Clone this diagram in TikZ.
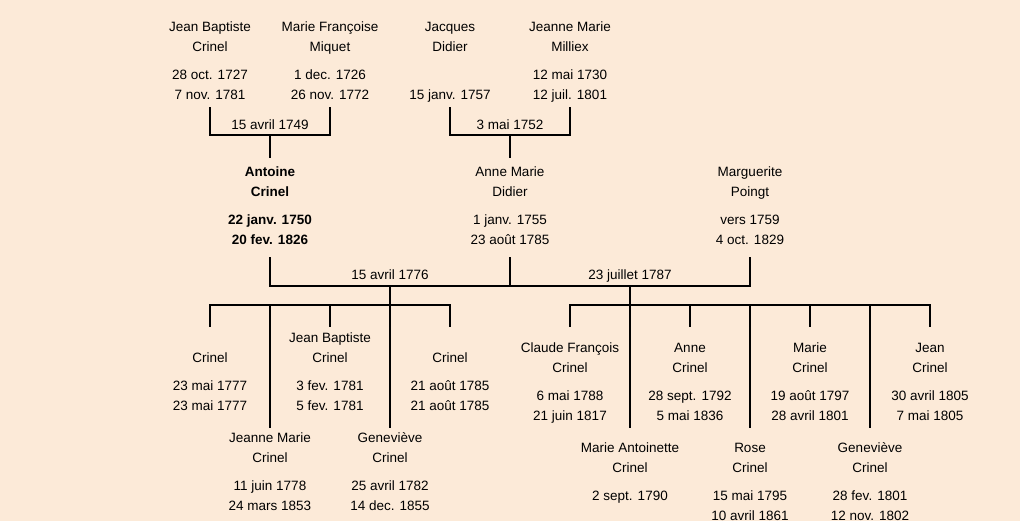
\documentclass[tikz,border=0pt]{standalone}
\usepackage{fontspec}
\setmainfont{Liberation Sans}
\definecolor{fond}{RGB}{252,234,216}
\tikzset{
  person/.style={align=center, anchor=base, inner sep=0pt, font=\fontsize{13.5}{20}\selectfont},
  mariage/.style={anchor=base, inner sep=0pt, font=\fontsize{13.5}{20}\selectfont},
  lien/.style={line width=2pt, line cap=rect}
}
\begin{document}
\begin{tikzpicture}[x=1pt, y=-1pt]
\fill[fond] (0,0) rectangle (1020,521);
\useasboundingbox (0,0) rectangle (1020,521);
% Grands-parents
\node[person] (jbc) at (210,100) {Jean Baptiste\\Crinel\\[8pt]28 oct. 1727\\7 nov. 1781};
\node[person] (mfm) at (330,100) {Marie Françoise\\Miquet\\[8pt]1 dec. 1726\\26 nov. 1772};
\node[person] (jad) at (450,100) {Jacques\\Didier\\[8pt]\\15 janv. 1757};
\node[person] (jmm) at (570,100) {Jeanne Marie\\Milliex\\[8pt]12 mai 1730\\12 juil. 1801};
% Parents
\node[person, font=\fontsize{13.5}{20}\selectfont\bfseries] (ac) at (270,245) {Antoine\\Crinel\\[8pt]22 janv. 1750\\20 fev. 1826};
\node[person] (amd) at (510,245) {Anne Marie\\Didier\\[8pt]1 janv. 1755\\23 août 1785};
\node[person] (mp) at (750,245) {Marguerite\\Poingt\\[8pt]vers 1759\\4 oct. 1829};
% Mariages
\node[mariage] (ma1) at (270,130) {15 avril 1749};
\node[mariage] (ma2) at (510,130) {3 mai 1752};
\node[mariage] (ma3) at (390,280) {15 avril 1776};
\node[mariage] (ma4) at (630,280) {23 juillet 1787};
% Enfants du premier mariage
\node[person] (e1) at (210,410) {Crinel\\[8pt]23 mai 1777\\23 mai 1777};
\node[person] (e2) at (270,510) {Jeanne Marie\\Crinel\\[8pt]11 juin 1778\\24 mars 1853};
\node[person] (e3) at (330,410) {Jean Baptiste\\Crinel\\[8pt]3 fev. 1781\\5 fev. 1781};
\node[person] (e4) at (390,510) {Geneviève\\Crinel\\[8pt]25 avril 1782\\14 dec. 1855};
\node[person] (e5) at (450,410) {Crinel\\[8pt]21 août 1785\\21 août 1785};
% Enfants du second mariage
\node[person] (f1) at (570,420) {Claude François\\Crinel\\[8pt]6 mai 1788\\21 juin 1817};
\node[person] (f2) at (630,500) {Marie Antoinette\\Crinel\\[8pt]2 sept. 1790};
\node[person] (f3) at (690,420) {Anne\\Crinel\\[8pt]28 sept. 1792\\5 mai 1836};
\node[person] (f4) at (750,520) {Rose\\Crinel\\[8pt]15 mai 1795\\10 avril 1861};
\node[person] (f5) at (810,420) {Marie\\Crinel\\[8pt]19 août 1797\\28 avril 1801};
\node[person] (f6) at (870,520) {Geneviève\\Crinel\\[8pt]28 fev. 1801\\12 nov. 1802};
\node[person] (f7) at (930,420) {Jean\\Crinel\\[8pt]30 avril 1805\\7 mai 1805};
% Points de raccord
\coordinate (jbc-b) at (210,108);
\coordinate (mfm-b) at (330,108);
\coordinate (jad-b) at (450,108);
\coordinate (jmm-b) at (570,108);
\coordinate (u1) at (270,135);
\coordinate (u2) at (510,135);
\coordinate (ac-h) at (270,157);
\coordinate (amd-h) at (510,157);
\coordinate (ac-b) at (270,258);
\coordinate (amd-b) at (510,258);
\coordinate (mp-b) at (750,258);
\coordinate (u3) at (390,286);
\coordinate (u4) at (630,286);
\coordinate (r3) at (390,305);
\coordinate (r4) at (630,305);
\coordinate (e1-h) at (210,326);
\coordinate (e2-h) at (270,427);
\coordinate (e3-h) at (330,326);
\coordinate (e4-h) at (390,427);
\coordinate (e5-h) at (450,326);
\coordinate (f1-h) at (570,326);
\coordinate (f2-h) at (630,427);
\coordinate (f3-h) at (690,326);
\coordinate (f4-h) at (750,427);
\coordinate (f5-h) at (810,326);
\coordinate (f6-h) at (870,427);
\coordinate (f7-h) at (930,326);
% Liens
\draw[lien] (jbc-b) |- (u1) -| (mfm-b);
\draw[lien] (u1) -- (ac-h);
\draw[lien] (jad-b) |- (u2) -| (jmm-b);
\draw[lien] (u2) -- (amd-h);
\draw[lien] (ac-b) |- (u3) -- (u4) -| (mp-b);
\draw[lien] (amd-b) -- (amd-b |- u3);
\draw[lien] (e1-h) |- (r3) -| (e5-h);
\draw[lien] (u3) -- (e4-h);
\draw[lien] (e2-h) -- (e2-h |- r3);
\draw[lien] (e3-h) -- (e3-h |- r3);
\draw[lien] (f1-h) |- (r4) -| (f7-h);
\draw[lien] (u4) -- (f2-h);
\draw[lien] (f3-h) -- (f3-h |- r4);
\draw[lien] (f4-h) -- (f4-h |- r4);
\draw[lien] (f5-h) -- (f5-h |- r4);
\draw[lien] (f6-h) -- (f6-h |- r4);
\end{tikzpicture}
\end{document}
